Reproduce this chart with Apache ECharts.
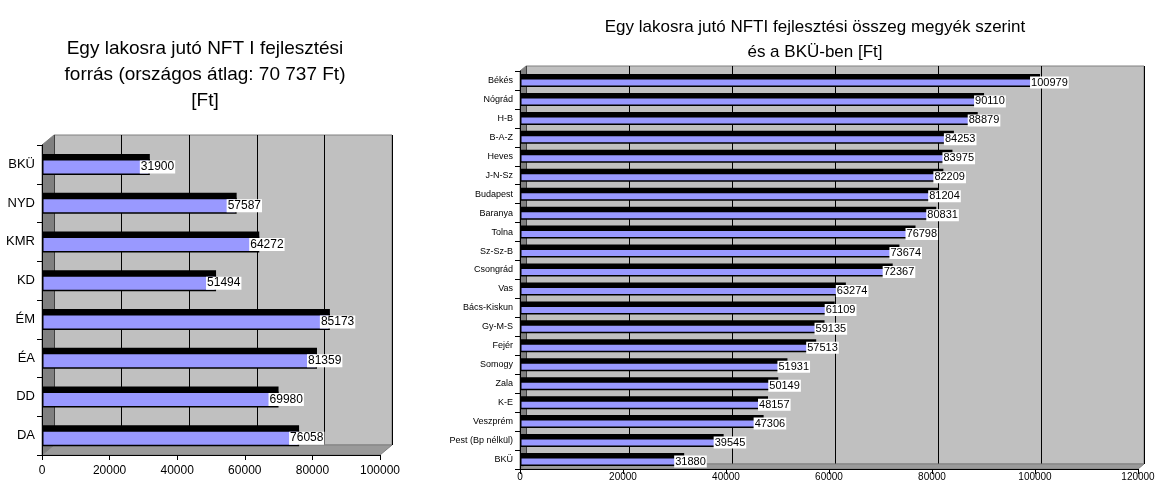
<!DOCTYPE html>
<html>
<head>
<meta charset="utf-8">
<script src="https://cdn.jsdelivr.net/npm/echarts@6/dist/echarts.min.js"></script>
<style>
    html, body { margin: 0; padding: 0; background: #fff; }
    #chart { width: 1159px; height: 492px; }
</style>
</head>
<body>
<div id="chart"></div>
<script>
// bal oldali diagram: regiok
const regionNames = ['BKÜ', 'NYD', 'KMR', 'KD', 'ÉM', 'ÉA', 'DD', 'DA']
const regionValues = [31900, 57587, 64272, 51494, 85173, 81359, 69980, 76058]
const regionTicks = [0, 20000, 40000, 60000, 80000, 100000]

// jobb oldali diagram: megyek
const countyNames = ['Békés', 'Nógrád', 'H-B', 'B-A-Z', 'Heves', 'J-N-Sz', 'Budapest', 'Baranya', 'Tolna',
    'Sz-Sz-B', 'Csongrád', 'Vas', 'Bács-Kiskun', 'Gy-M-S', 'Fejér', 'Somogy', 'Zala', 'K-E', 'Veszprém',
    'Pest (Bp nélkül)', 'BKÜ']
const countyValues = [100979, 90110, 88879, 84253, 83975, 82209, 81204, 80831, 76798,
    73674, 72367, 63274, 61109, 59135, 57513, 51931, 50149, 48157, 47306,
    39545, 31880]
const countyTicks = [0, 20000, 40000, 60000, 80000, 100000, 120000]

const font = 'Arial, "Liberation Sans", sans-serif'
const blue = '#9999ff'

let dom = echarts.init(document.getElementById('chart'))

function valueAxis(gridIndex, ticks, front, fontSize, margin) {
    return {
        type: 'value',
        gridIndex: gridIndex,
        min: ticks[0],
        max: ticks[ticks.length - 1],
        interval: ticks[1] - ticks[0],
        z: front ? 30 : 0,
        axisLine: { show: front, lineStyle: { color: '#000', width: 1 } },
        axisTick: { show: front, length: 5, lineStyle: { color: '#000' } },
        axisLabel: {
            show: front, color: '#000', fontSize: fontSize, fontFamily: font, margin: margin,
            formatter: v => String(v)
        },
        splitLine: { show: !front, lineStyle: { color: '#000', width: 1 } }
    }
}

function catAxis(gridIndex, names, front, fontSize, margin) {
    return {
        type: 'category',
        gridIndex: gridIndex,
        data: names,
        inverse: true,
        show: front,
        z: front ? 30 : 0,
        axisLine: { show: front, lineStyle: { color: '#000', width: 1 } },
        axisTick: { show: front, length: 5, lineStyle: { color: '#000' } },
        axisLabel: { color: '#000', fontSize: fontSize, fontFamily: font, margin: margin, interval: 0 },
        splitLine: { show: false }
    }
}

function barPair(axisIndex, values, width, shift, labelSize) {
    let gap = -((width - shift) / width * 100) + '%'
    return [
        {
            type: 'bar',
            xAxisIndex: axisIndex,
            yAxisIndex: axisIndex,
            data: values,
            barWidth: width,
            barGap: gap,
            z: 20,
            itemStyle: { color: '#000' },
            silent: true
        },
        {
            type: 'bar',
            xAxisIndex: axisIndex,
            yAxisIndex: axisIndex,
            data: values,
            barWidth: width,
            barGap: gap,
            z: 21,
            itemStyle: { color: blue, borderColor: '#000', borderWidth: 1.5 },
            label: {
                show: true,
                position: 'right',
                distance: 0,
                offset: [-10, 0],
                color: '#000',
                fontSize: labelSize,
                fontFamily: font,
                backgroundColor: '#fff',
                padding: [1, 1, 0, 1]
            }
        }
    ]
}

// 3D falak: oldalfal es padlo
function walls(x0, x1, y0, y1, dx, dy) {
    return [
        {
            type: 'polygon', z: 1,
            shape: { points: [[x0, y0], [x0 + dx, y0 - dy], [x0 + dx, y1 - dy], [x0, y1]] },
            style: { fill: '#808080', stroke: '#808080' }
        },
        {
            type: 'polygon', z: 1,
            shape: { points: [[x0, y1], [x0 + dx, y1 - dy], [x1 + dx, y1 - dy], [x1, y1]] },
            style: { fill: '#9a9a9a', stroke: '#808080' }
        }
    ]
}

let option = {
    animation: false,
    backgroundColor: '#fff',
    title: [
        {
            text: 'Egy lakosra jutó NFT I fejlesztési\nforrás (országos átlag: 70 737 Ft)\n[Ft]',
            left: 200,
            top: 31,
            textAlign: 'center',
            textStyle: { color: '#000', fontSize: 19, fontWeight: 'normal', fontFamily: font, lineHeight: 26 }
        },
        {
            text: 'Egy lakosra jutó NFTI fejlesztési összeg megyék szerint\nés a BKÜ-ben [Ft]',
            left: 810,
            top: 10,
            textAlign: 'center',
            textStyle: { color: '#000', fontSize: 17, fontWeight: 'normal', fontFamily: font, lineHeight: 25 }
        }
    ],
    grid: [
        { left: 42, right: 1159 - 380, top: 145, bottom: 492 - 455 },
        { left: 54, right: 1159 - 392, top: 135, bottom: 492 - 445, show: true, backgroundColor: '#c0c0c0', borderColor: '#808080', borderWidth: 1 },
        { left: 520, right: 1159 - 1138, top: 71, bottom: 492 - 469 },
        { left: 526, right: 1159 - 1144, top: 66, bottom: 492 - 464, show: true, backgroundColor: '#c0c0c0', borderColor: '#808080', borderWidth: 1 }
    ],
    xAxis: [
        valueAxis(0, regionTicks, true, 12, 10),
        valueAxis(1, regionTicks, false, 12, 10),
        valueAxis(2, countyTicks, true, 10, 3),
        valueAxis(3, countyTicks, false, 10, 3)
    ],
    yAxis: [
        catAxis(0, regionNames, true, 13, 7),
        catAxis(1, regionNames, false, 13, 7),
        catAxis(2, countyNames, true, 9, 7),
        catAxis(3, countyNames, false, 9, 7)
    ],
    graphic: [].concat(walls(42, 380, 145, 455, 12, 10), walls(520, 1138, 71, 469, 6, 5)),
    series: [].concat(
        barPair(0, regionValues, 16, 5, 12),
        barPair(2, countyValues, 9, 4, 11)
    )
}
dom.setOption(option)
</script>
</body>
</html>
